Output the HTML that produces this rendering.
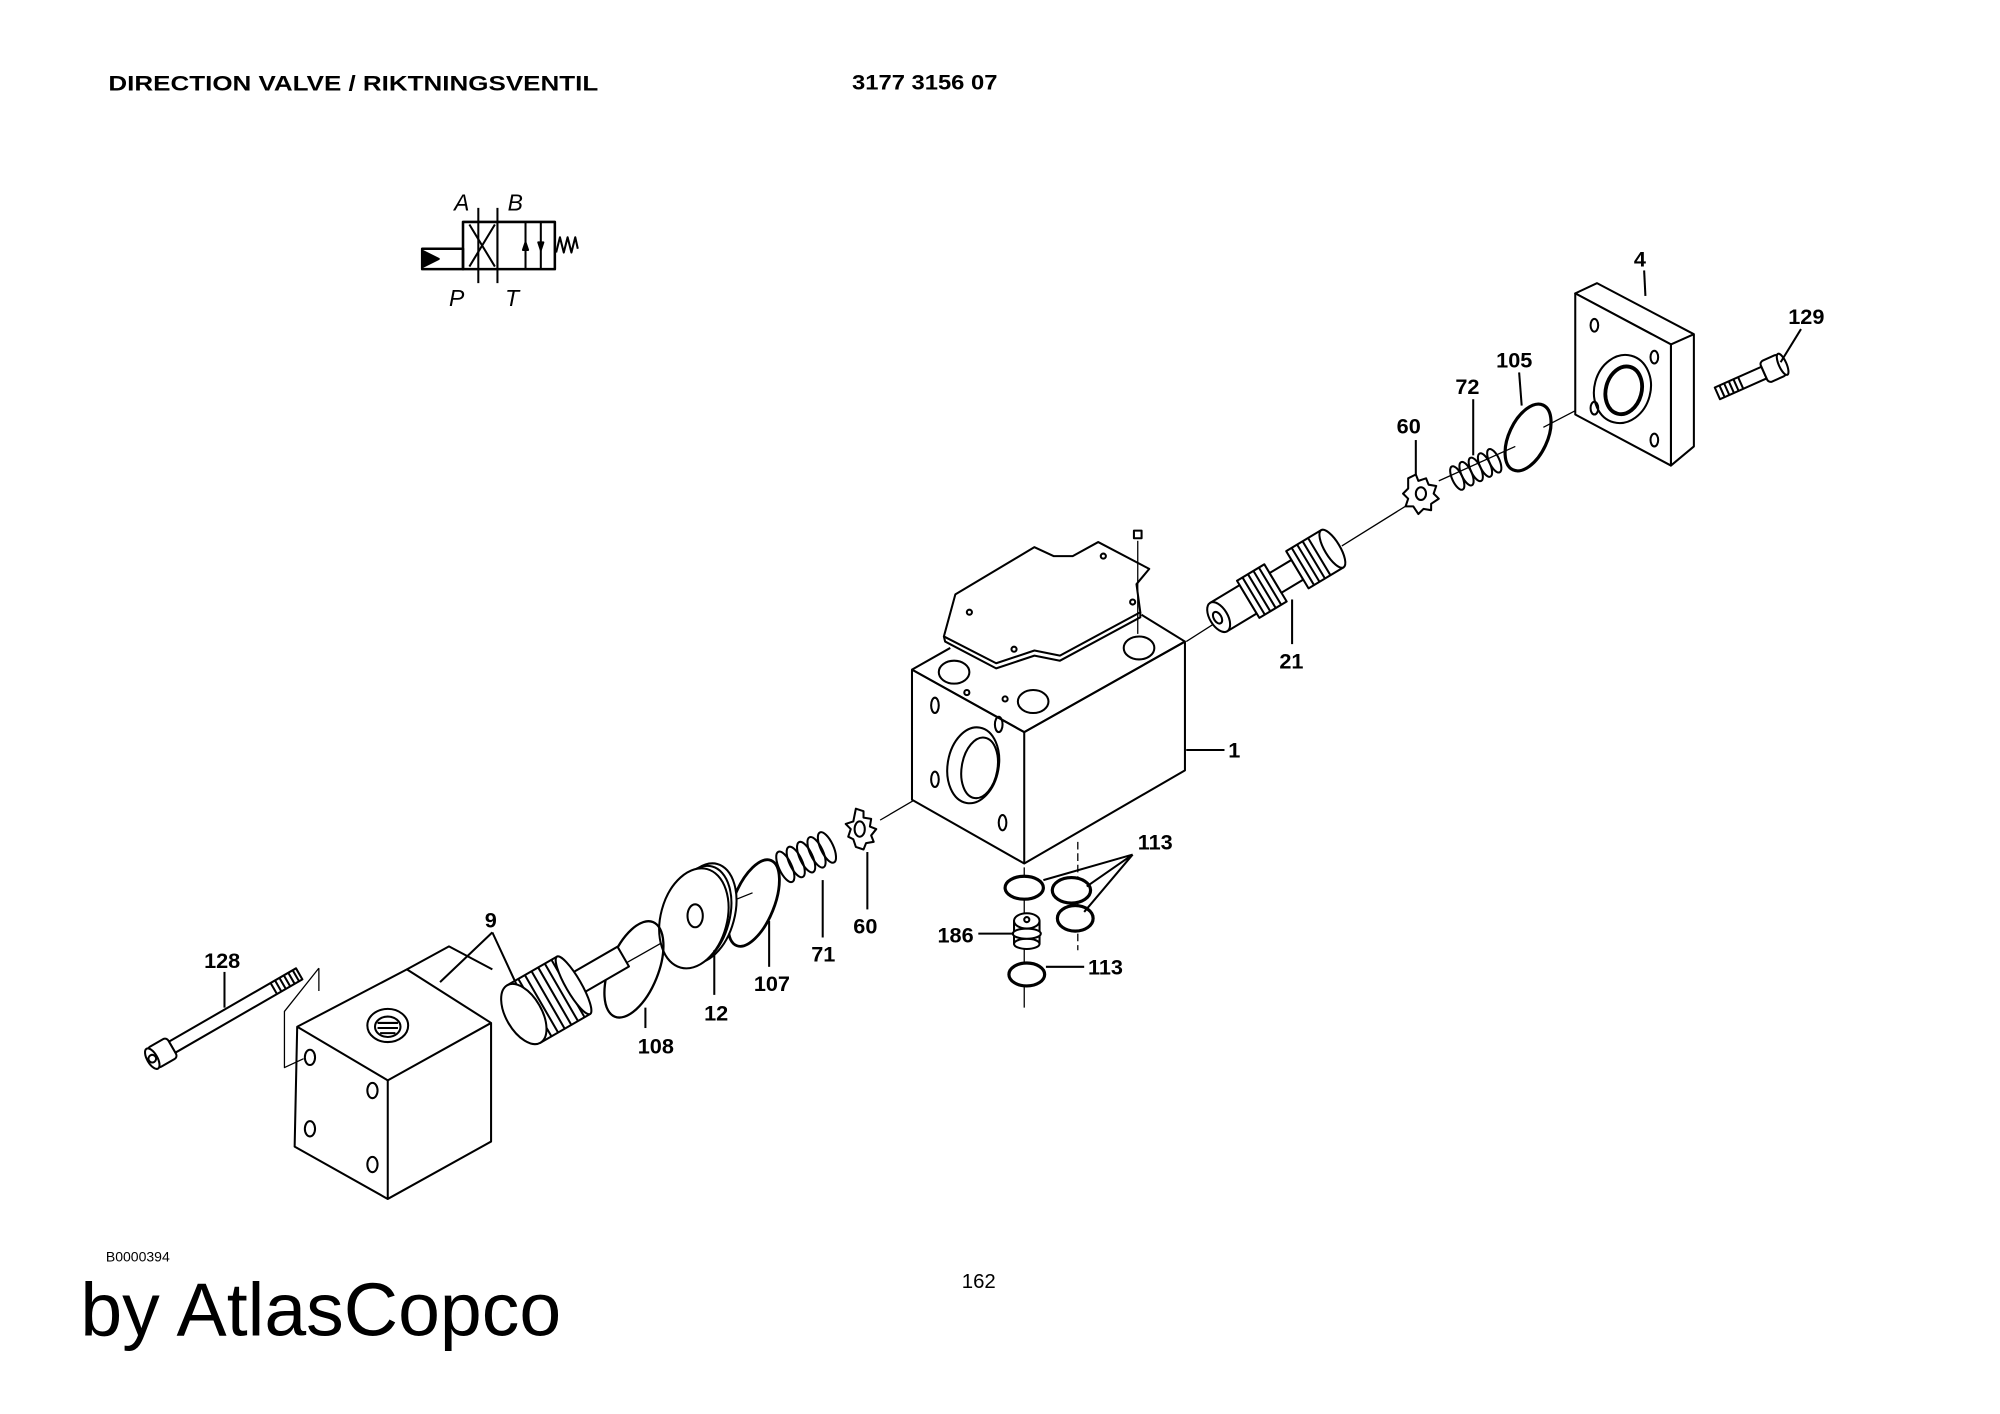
<!DOCTYPE html>
<html><head><meta charset="utf-8"><style>
html,body{margin:0;padding:0;background:#fff;}
svg{display:block;}
text{font-family:"Liberation Sans",Arial,sans-serif;fill:#000;}
.l{font-weight:bold;font-size:17px;}
</style></head><body>
<svg width="2000" height="1414" viewBox="0 0 1568 1108.6" preserveAspectRatio="none" xmlns="http://www.w3.org/2000/svg">
<g fill="none" stroke="#000" stroke-width="1.6" stroke-linejoin="round">

<text x="85" y="71" class="l" style="font-size:17px;font-weight:bold" stroke="none" textLength="384" lengthAdjust="spacingAndGlyphs">DIRECTION VALVE / RIKTNINGSVENTIL</text>
<text x="668" y="70" class="l" stroke="none" textLength="114" lengthAdjust="spacingAndGlyphs">3177 3156 07</text>

<rect x="363" y="174" width="72" height="37" stroke-width="2"/>
<line x1="390" y1="174" x2="390" y2="211"/>
<line x1="412" y1="174" x2="412" y2="211"/>
<line x1="424" y1="174" x2="424" y2="211"/>
<line x1="375" y1="163" x2="375" y2="222"/>
<line x1="390" y1="163" x2="390" y2="222"/>
<path d="M368 176 L388 209 M388 176 L368 209"/>
<path d="M331 195 H363 V211 H331 Z" stroke-width="2"/>
<path d="M332 197 L344 203 L332 209 Z" fill="#000"/>
<path d="M436 198 L439 186 L442 198 L445 186 L448 198 L451 186 L453 195"/>
<path d="M424 196 L422 190 L426 190 Z M412 190 L410 196 L414 196 Z" fill="#000"/>
<text x="356" y="165" stroke="none" font-size="18" font-style="italic">A</text>
<text x="398" y="165" stroke="none" font-size="18" font-style="italic">B</text>
<text x="352" y="240" stroke="none" font-size="18" font-style="italic">P</text>
<text x="396" y="240" stroke="none" font-size="18" font-style="italic">T</text>

<path d="M690 643 L760 602" stroke-width="1"/>
<path d="M930 503 L955 487" stroke-width="1"/>
<path d="M1052 428 L1105 395" stroke-width="1"/>
<path d="M1128 377 L1188 350" stroke-width="1"/>
<path d="M1210 335 L1262 308" stroke-width="1"/>
<path d="M468 768 L535 730" stroke-width="1"/>
<path d="M560 712 L590 700" stroke-width="1"/>

<path d="M715 525 L803 574 L929 503 L929 604 L803 677 L715 627 Z" fill="#fff"/>
<path d="M715 525 L803 574 L929 503"/>
<line x1="803" y1="574" x2="803" y2="677"/>
<path d="M715 525 L745 508 M895 482 L929 503"/>
<ellipse cx="763" cy="600" rx="20" ry="30" transform="rotate(10 763 600)"/>
<ellipse cx="768" cy="602" rx="14" ry="24" transform="rotate(10 768 602)"/>
<ellipse cx="733" cy="553" rx="3" ry="6"/>
<ellipse cx="783" cy="568" rx="3" ry="6"/>
<ellipse cx="733" cy="611" rx="3" ry="6"/>
<ellipse cx="786" cy="645" rx="3" ry="6"/>
<ellipse cx="748" cy="527" rx="12" ry="9"/>
<ellipse cx="810" cy="550" rx="12" ry="9"/>
<ellipse cx="893" cy="508" rx="12" ry="9"/>
<circle cx="758" cy="543" r="2"/><circle cx="788" cy="548" r="2"/>
<path d="M740 499 L749 466 L811 429 L826 436 L841 436 L861 425 L901 446 L891 458 L894 480 L831 514 L811 510 L781 520 Z" fill="#fff"/>
<path d="M740 499 L741 503 L781 524 L811 514 L831 518 L894 484 L894 480"/>
<circle cx="795" cy="509" r="2"/><circle cx="888" cy="472" r="2"/><circle cx="865" cy="436" r="2"/><circle cx="760" cy="480" r="2"/>
<line x1="892" y1="424" x2="892" y2="497" stroke-width="1"/>
<path d="M889 416 L895 416 L895 422 L889 422 Z" fill="#fff"/>
<line x1="930" y1="588" x2="960" y2="588"/>
<text x="963" y="594" class="l" stroke="none">1</text>

<g transform="translate(1000,457) rotate(-31)" fill="#fff">
 <rect x="-52" y="-13" width="27" height="26"/>
 <ellipse cx="-52" cy="0" rx="7" ry="13"/>
 <ellipse cx="-53" cy="0" rx="3" ry="5"/>
 <rect x="-25" y="-17" width="25" height="34"/>
 <path d="M-20 -17 V17 M-15 -17 V17 M-10 -17 V17 M-5 -17 V17"/>
 <rect x="0" y="-9" width="20" height="18"/>
 <rect x="20" y="-17" width="32" height="34"/>
 <path d="M25 -17 V17 M30 -17 V17 M35 -17 V17 M40 -17 V17"/>
 <ellipse cx="52" cy="0" rx="6" ry="17"/>
</g>
<line x1="1013" y1="470" x2="1013" y2="505"/>
<text x="1003" y="524" class="l" stroke="none">21</text>

<g transform="translate(1114,387)">
 <path d="M-10 -12 L-4 -15 L-2 -10 L4 -12 L6 -7 L12 -6 L10 0 L14 4 L8 8 L8 13 L2 12 L-2 16 L-6 10 L-12 10 L-10 4 L-14 0 L-10 -4 Z" fill="#fff"/>
 <ellipse cx="0" cy="0" rx="4" ry="5"/>
</g>
<line x1="1110" y1="345" x2="1110" y2="372"/>
<text x="1095" y="340" class="l" stroke="none">60</text>

<g transform="translate(1157,368) rotate(-25)">
 <ellipse cx="-16" cy="0" rx="4" ry="10"/><ellipse cx="-8" cy="0" rx="4" ry="10"/><ellipse cx="0" cy="0" rx="4" ry="10"/><ellipse cx="8" cy="0" rx="4" ry="10"/><ellipse cx="16" cy="0" rx="4" ry="10"/>
</g>
<line x1="1155" y1="313" x2="1155" y2="357"/>
<text x="1141" y="309" class="l" stroke="none">72</text>

<ellipse cx="1198" cy="343" rx="15" ry="28" transform="rotate(25 1198 343)" stroke-width="2.5"/>
<line x1="1191" y1="292" x2="1193" y2="318"/>
<text x="1173" y="288" class="l" stroke="none">105</text>

<path d="M1235 230 L1252 222 L1328 262 L1328 350 L1310 365 L1310 270 Z" fill="#fff"/>
<path d="M1235 230 L1310 270 L1310 365 L1235 325 Z" fill="#fff"/>
<line x1="1310" y1="270" x2="1328" y2="262"/>
<ellipse cx="1272" cy="305" rx="22" ry="27" transform="rotate(15 1272 305)"/>
<ellipse cx="1273" cy="306" rx="14" ry="19" transform="rotate(15 1273 306)" stroke-width="3"/>
<ellipse cx="1250" cy="255" rx="3" ry="5"/><ellipse cx="1297" cy="280" rx="3" ry="5"/>
<ellipse cx="1250" cy="320" rx="3" ry="5"/><ellipse cx="1297" cy="345" rx="3" ry="5"/>
<line x1="1289" y1="212" x2="1290" y2="232"/>
<text x="1281" y="209" class="l" stroke="none">4</text>

<g transform="translate(1372,297) rotate(-24)" fill="#fff">
 <rect x="-28" y="-5" width="40" height="10"/>
 <path d="M-24 -5 V5 M-20 -5 V5 M-16 -5 V5 M-12 -5 V5 M-8 -5 V5"/>
 <rect x="12" y="-9" width="16" height="18" rx="3"/>
 <ellipse cx="28" cy="0" rx="3" ry="9"/>
</g>
<line x1="1412" y1="258" x2="1396" y2="284"/>
<text x="1402" y="254" class="l" stroke="none">129</text>

<line x1="803" y1="680" x2="803" y2="790" stroke-width="1"/>
<line x1="845" y1="660" x2="845" y2="745" stroke-width="1" stroke-dasharray="6 3"/>
<ellipse cx="803" cy="696" rx="15" ry="9" stroke-width="2.5" fill="#fff"/>
<ellipse cx="840" cy="698" rx="15" ry="10" stroke-width="2.5" fill="#fff"/>
<ellipse cx="843" cy="720" rx="14" ry="10" stroke-width="2.5" fill="#fff"/>
<ellipse cx="805" cy="764" rx="14" ry="9" stroke-width="2.5" fill="#fff"/>
<g fill="#fff">
 <rect x="795" y="722" width="20" height="18"/>
 <ellipse cx="805" cy="740" rx="10" ry="4"/>
 <ellipse cx="805" cy="732" rx="11" ry="4"/>
 <ellipse cx="805" cy="722" rx="10" ry="6"/>
 <circle cx="805" cy="721" r="2"/>
</g>
<path d="M888 670 L818 690 M888 670 L852 695 M888 670 L850 715"/>
<text x="892" y="666" class="l" stroke="none">113</text>
<line x1="820" y1="758" x2="850" y2="758"/>
<text x="853" y="764" class="l" stroke="none">113</text>
<line x1="767" y1="732" x2="795" y2="732"/>
<text x="735" y="739" class="l" stroke="none">186</text>

<g transform="translate(675,650)">
 <path d="M-4 -16 L2 -14 L2 -9 L8 -8 L7 -2 L12 0 L8 5 L10 10 L4 11 L2 16 L-4 14 L-6 8 L-10 6 L-8 0 L-12 -4 L-6 -6 Z" fill="#fff"/>
 <ellipse cx="-1" cy="0" rx="4" ry="6"/>
</g>
<line x1="680" y1="668" x2="680" y2="713"/>
<text x="669" y="732" class="l" stroke="none">60</text>

<g transform="translate(632,672) rotate(-25)">
 <ellipse cx="-18" cy="0" rx="5" ry="13"/><ellipse cx="-9" cy="0" rx="5" ry="13"/><ellipse cx="0" cy="0" rx="5" ry="13"/><ellipse cx="9" cy="0" rx="5" ry="13"/><ellipse cx="18" cy="0" rx="5" ry="13"/>
</g>
<line x1="645" y1="690" x2="645" y2="735"/>
<text x="636" y="754" class="l" stroke="none">71</text>

<ellipse cx="591" cy="708" rx="16" ry="36" transform="rotate(22 591 708)" stroke-width="2.2"/>
<line x1="603" y1="722" x2="603" y2="758"/>
<text x="591" y="777" class="l" stroke="none">107</text>

<ellipse cx="552" cy="716" rx="24" ry="40" transform="rotate(15 552 716)" fill="#fff"/>
<ellipse cx="548" cy="718" rx="24" ry="40" transform="rotate(15 548 718)" fill="#fff"/>
<ellipse cx="544" cy="720" rx="26" ry="40" transform="rotate(15 544 720)" fill="#fff"/>
<ellipse cx="545" cy="718" rx="6" ry="9"/>
<line x1="560" y1="745" x2="560" y2="780"/>
<text x="552" y="800" class="l" stroke="none">12</text>

<ellipse cx="497" cy="760" rx="19" ry="40" transform="rotate(22 497 760)" stroke-width="1.8"/>
<line x1="506" y1="790" x2="506" y2="806"/>
<text x="500" y="826" class="l" stroke="none">108</text>

<g transform="translate(428,785) rotate(-30)" fill="#fff">
 <rect x="25" y="-9" width="45" height="18"/>
 <rect x="-20" y="-26" width="45" height="52"/>
 <path d="M-10 -26 V26 M-4 -26 V26 M2 -26 V26 M8 -26 V26 M14 -26 V26 M20 -26 V26"/>
 <ellipse cx="25" cy="0" rx="6" ry="26"/>
 <ellipse cx="-20" cy="0" rx="14" ry="26"/>
</g>
<path d="M386 731 L345 770 M386 731 L405 772"/>
<text x="380" y="727" class="l" stroke="none">9</text>

<path d="M319 760 L352 742 L386 760" />
<path d="M233 805 L319 760 L385 802 L385 895 L304 940 L231 899 Z" fill="#fff"/>
<path d="M233 805 L304 847 L385 802"/>
<line x1="304" y1="847" x2="304" y2="940"/>
<ellipse cx="304" cy="804" rx="16" ry="13"/>
<ellipse cx="304" cy="805" rx="10" ry="8"/>
<path d="M296 802 H312 M296 806 H312 M298 810 H310"/>
<ellipse cx="243" cy="829" rx="4" ry="6"/>
<ellipse cx="292" cy="855" rx="4" ry="6"/>
<ellipse cx="243" cy="885" rx="4" ry="6"/>
<ellipse cx="292" cy="913" rx="4" ry="6"/>
<path d="M250 759 L250 777 M250 759 L223 793 L223 837 L238 830" stroke-width="1"/>

<g transform="translate(180,795) rotate(-30)" fill="#fff">
 <rect x="-52" y="-5" width="115" height="10"/>
 <path d="M40 -5 V5 M44 -5 V5 M48 -5 V5 M52 -5 V5 M56 -5 V5 M60 -5 V5"/>
 <rect x="-70" y="-9" width="18" height="18" rx="3"/>
 <ellipse cx="-70" cy="0" rx="4" ry="9"/>
 <circle cx="-70" cy="0" r="3"/>
</g>
<line x1="176" y1="762" x2="176" y2="790"/>
<text x="160" y="759" class="l" stroke="none">128</text>

</g>
<text x="83" y="989" font-size="11">B0000394</text>
<text x="754" y="1010" font-size="16">162</text>
<text x="63" y="1047" font-size="59" textLength="377" lengthAdjust="spacingAndGlyphs">by AtlasCopco</text>
</svg>
</body></html>
